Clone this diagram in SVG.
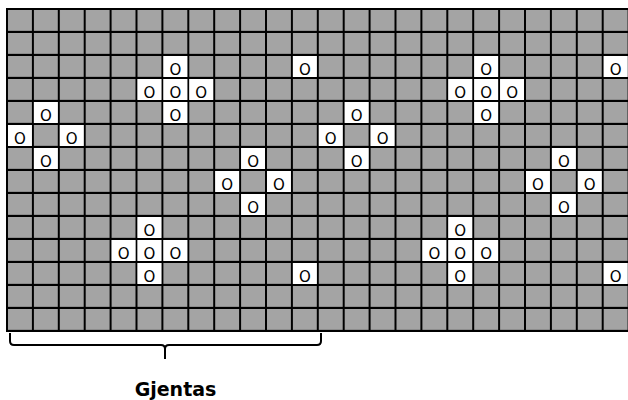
<svg xmlns="http://www.w3.org/2000/svg" width="628" height="400" viewBox="0 0 628 400">
<style>
.w{fill:#ffffff}
.c text{font-family:"DejaVu Sans",sans-serif;font-size:15px;fill:#000;text-anchor:middle}
.brace{fill:none;stroke:#000;stroke-width:2}
.lbl{font-family:"DejaVu Sans",sans-serif;font-size:19px;font-weight:bold;fill:#000;text-anchor:middle}
</style>
<defs>
<pattern id="grid" patternUnits="userSpaceOnUse" x="6" y="8" width="25.9" height="23">
<rect width="25.9" height="23" fill="#000"/>
<rect x="2" y="2" width="23.9" height="21" fill="#a4a4a4"/>
<rect x="2" y="22" width="23.9" height="1" fill="#8c8c8c"/>
</pattern>
</defs>
<rect id="board" x="6" y="8" width="630" height="324" fill="url(#grid)"/>
<g id="cells" class="c">
<g id="r3c7" transform="translate(163.4,56)"><rect class="w" width="23.9" height="21"/><text x="11.95" y="18.5">O</text></g>
<g id="r3c12" transform="translate(292.9,56)"><rect class="w" width="23.9" height="21"/><text x="11.95" y="18.5">O</text></g>
<g id="r3c19" transform="translate(474.2,56)"><rect class="w" width="23.9" height="21"/><text x="11.95" y="18.5">O</text></g>
<g id="r3c24" transform="translate(603.7,56)"><rect class="w" width="23.9" height="21"/><text x="11.95" y="18.5">O</text></g>
<g id="r4c6" transform="translate(137.5,79)"><rect class="w" width="23.9" height="21"/><text x="11.95" y="18.5">O</text></g>
<g id="r4c7" transform="translate(163.4,79)"><rect class="w" width="23.9" height="21"/><text x="11.95" y="18.5">O</text></g>
<g id="r4c8" transform="translate(189.3,79)"><rect class="w" width="23.9" height="21"/><text x="11.95" y="18.5">O</text></g>
<g id="r4c18" transform="translate(448.3,79)"><rect class="w" width="23.9" height="21"/><text x="11.95" y="18.5">O</text></g>
<g id="r4c19" transform="translate(474.2,79)"><rect class="w" width="23.9" height="21"/><text x="11.95" y="18.5">O</text></g>
<g id="r4c20" transform="translate(500.1,79)"><rect class="w" width="23.9" height="21"/><text x="11.95" y="18.5">O</text></g>
<g id="r5c2" transform="translate(33.9,102)"><rect class="w" width="23.9" height="21"/><text x="11.95" y="18.5">O</text></g>
<g id="r5c7" transform="translate(163.4,102)"><rect class="w" width="23.9" height="21"/><text x="11.95" y="18.5">O</text></g>
<g id="r5c14" transform="translate(344.7,102)"><rect class="w" width="23.9" height="21"/><text x="11.95" y="18.5">O</text></g>
<g id="r5c19" transform="translate(474.2,102)"><rect class="w" width="23.9" height="21"/><text x="11.95" y="18.5">O</text></g>
<g id="r6c1" transform="translate(8,125)"><rect class="w" width="23.9" height="21"/><text x="11.95" y="18.5">O</text></g>
<g id="r6c3" transform="translate(59.8,125)"><rect class="w" width="23.9" height="21"/><text x="11.95" y="18.5">O</text></g>
<g id="r6c13" transform="translate(318.8,125)"><rect class="w" width="23.9" height="21"/><text x="11.95" y="18.5">O</text></g>
<g id="r6c15" transform="translate(370.6,125)"><rect class="w" width="23.9" height="21"/><text x="11.95" y="18.5">O</text></g>
<g id="r7c2" transform="translate(33.9,148)"><rect class="w" width="23.9" height="21"/><text x="11.95" y="18.5">O</text></g>
<g id="r7c10" transform="translate(241.1,148)"><rect class="w" width="23.9" height="21"/><text x="11.95" y="18.5">O</text></g>
<g id="r7c14" transform="translate(344.7,148)"><rect class="w" width="23.9" height="21"/><text x="11.95" y="18.5">O</text></g>
<g id="r7c22" transform="translate(551.9,148)"><rect class="w" width="23.9" height="21"/><text x="11.95" y="18.5">O</text></g>
<g id="r8c9" transform="translate(215.2,171)"><rect class="w" width="23.9" height="21"/><text x="11.95" y="18.5">O</text></g>
<g id="r8c11" transform="translate(267,171)"><rect class="w" width="23.9" height="21"/><text x="11.95" y="18.5">O</text></g>
<g id="r8c21" transform="translate(526,171)"><rect class="w" width="23.9" height="21"/><text x="11.95" y="18.5">O</text></g>
<g id="r8c23" transform="translate(577.8,171)"><rect class="w" width="23.9" height="21"/><text x="11.95" y="18.5">O</text></g>
<g id="r9c10" transform="translate(241.1,194)"><rect class="w" width="23.9" height="21"/><text x="11.95" y="18.5">O</text></g>
<g id="r9c22" transform="translate(551.9,194)"><rect class="w" width="23.9" height="21"/><text x="11.95" y="18.5">O</text></g>
<g id="r10c6" transform="translate(137.5,217)"><rect class="w" width="23.9" height="21"/><text x="11.95" y="18.5">O</text></g>
<g id="r10c18" transform="translate(448.3,217)"><rect class="w" width="23.9" height="21"/><text x="11.95" y="18.5">O</text></g>
<g id="r11c5" transform="translate(111.6,240)"><rect class="w" width="23.9" height="21"/><text x="11.95" y="18.5">O</text></g>
<g id="r11c6" transform="translate(137.5,240)"><rect class="w" width="23.9" height="21"/><text x="11.95" y="18.5">O</text></g>
<g id="r11c7" transform="translate(163.4,240)"><rect class="w" width="23.9" height="21"/><text x="11.95" y="18.5">O</text></g>
<g id="r11c17" transform="translate(422.4,240)"><rect class="w" width="23.9" height="21"/><text x="11.95" y="18.5">O</text></g>
<g id="r11c18" transform="translate(448.3,240)"><rect class="w" width="23.9" height="21"/><text x="11.95" y="18.5">O</text></g>
<g id="r11c19" transform="translate(474.2,240)"><rect class="w" width="23.9" height="21"/><text x="11.95" y="18.5">O</text></g>
<g id="r12c6" transform="translate(137.5,263)"><rect class="w" width="23.9" height="21"/><text x="11.95" y="18.5">O</text></g>
<g id="r12c12" transform="translate(292.9,263)"><rect class="w" width="23.9" height="21"/><text x="11.95" y="18.5">O</text></g>
<g id="r12c18" transform="translate(448.3,263)"><rect class="w" width="23.9" height="21"/><text x="11.95" y="18.5">O</text></g>
<g id="r12c24" transform="translate(603.7,263)"><rect class="w" width="23.9" height="21"/><text x="11.95" y="18.5">O</text></g>
</g>
<g id="brace">
<path class="brace" d="M10,333 L10,341 Q10,345 14,345 L161,345 Q165,345 165,349 L165,359 M165,349 Q165,345 169,345 L317,345 Q321,345 321,341 L321,333"/>
</g>
<text id="label" class="lbl" x="175.5" y="396">Gjentas</text>
</svg>
